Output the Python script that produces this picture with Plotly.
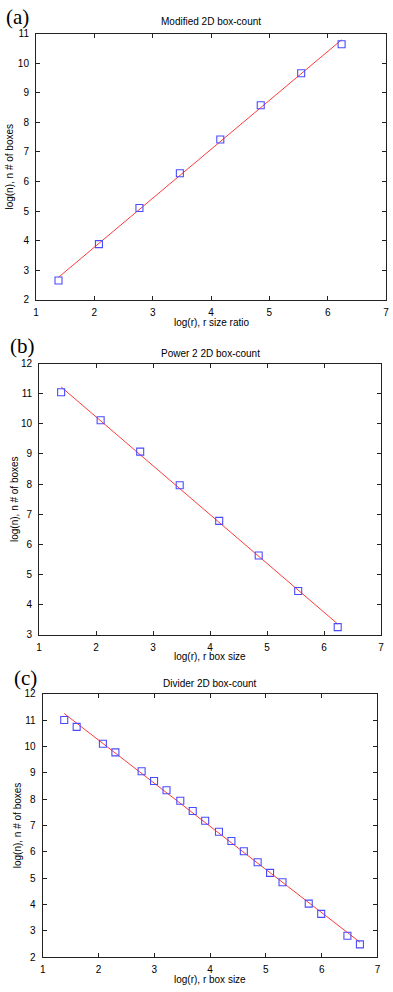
import numpy as np
import plotly.graph_objects as go

# ---------------- data ----------------
x_a = [1.386, 2.079, 2.773, 3.466, 4.159, 4.852, 5.545, 6.238]
y_a = [2.65, 3.88, 5.10, 6.28, 7.42, 8.58, 9.66, 10.64]

x_b = [1.386, 2.079, 2.773, 3.466, 4.159, 4.852, 5.545, 6.238]
y_b = [11.05, 10.12, 9.08, 7.96, 6.78, 5.63, 4.45, 3.25]

x_c = [1.386, 1.609, 2.079, 2.303, 2.773, 2.996, 3.219, 3.466, 3.689, 3.912,
       4.159, 4.382, 4.605, 4.852, 5.075, 5.298, 5.768, 5.991, 6.461, 6.685]
y_c = [11.01, 10.75, 10.11, 9.78, 9.06, 8.69, 8.34, 7.94, 7.55, 7.18,
       6.76, 6.41, 6.02, 5.60, 5.20, 4.84, 4.03, 3.64, 2.81, 2.48]

titles = ["Modified 2D box-count", "Power 2 2D box-count", "Divider 2D box-count"]
xtitles = ["log(r), r size ratio", "log(r), r box size", "log(r), r box size"]
ytitle = "log(n), n # of boxes"
labels = ["(a)", "(b)", "(c)"]
yranges = [[2, 11], [3, 12], [2, 12]]
xrange_ = [1, 7]

W, H = 393, 992

def px(x):
    return x / W

def py(y):
    return 1 - y / H

# plot boxes in pixels: left, right, top, bottom
boxes = [(33.5, 389, 29, 298), (36.7, 384, 362.7, 636.7), (40.3, 380.3, 696.7, 962.7)]
title_y = [17, 352, 686]
xtitle_y = [321, 659, 985]
ytitle_x = [7, 11, 15]
label_pos = [(1, 12), (5, 345), (9, 681)]

fig = go.Figure()
datasets = [(x_a, y_a), (x_b, y_b), (x_c, y_c)]
annotations = []
for i, (xs, ys) in enumerate(datasets):
    sfx = "" if i == 0 else str(i + 1)
    xa, ya = "x" + sfx, "y" + sfx
    xs_arr = np.array(xs)
    coef = np.polyfit(xs_arr, np.array(ys), 1)
    xl = np.array([xs_arr.min(), xs_arr.max()])
    fig.add_trace(go.Scatter(x=xl, y=np.polyval(coef, xl), mode="lines",
                             line=dict(color="#ff3a3a", width=1),
                             xaxis=xa, yaxis=ya, showlegend=False))
    fig.add_trace(go.Scatter(x=xs, y=ys, mode="markers",
                             marker=dict(symbol="square-open", size=7,
                                         color="#4a4aff", line=dict(width=1.1)),
                             xaxis=xa, yaxis=ya, showlegend=False))
    l, r, t, b = boxes[i]
    axstyle = dict(showgrid=False, zeroline=False, showline=True, linecolor="#222",
                   linewidth=1, mirror="ticks", ticks="inside", ticklen=4,
                   tickcolor="#222", tickfont=dict(family="Liberation Sans", size=10, color="black"),
                   dtick=1)
    fig.update_layout(**{
        "xaxis" + sfx: dict(domain=[px(l), px(r)], range=xrange_, anchor=ya,
                            ticklabelstandoff=3, **axstyle),
        "yaxis" + sfx: dict(domain=[py(b), py(t)], range=yranges[i], anchor=xa,
                            ticklabelstandoff=4, **axstyle),
    })
    cx = (l + r) / 2
    annotations.append(dict(text=titles[i], x=px(cx), y=py(title_y[i]), xref="paper", yref="paper",
                            showarrow=False, xanchor="center", yanchor="middle",
                            font=dict(family="Liberation Sans", size=10, color="black")))
    annotations.append(dict(text=xtitles[i], x=px(cx), y=py(xtitle_y[i]), xref="paper", yref="paper",
                            showarrow=False, xanchor="center", yanchor="middle",
                            font=dict(family="Liberation Sans", size=10, color="black")))
    annotations.append(dict(text=ytitle, x=px(ytitle_x[i]), y=py((t + b) / 2), xref="paper", yref="paper",
                            showarrow=False, xanchor="center", yanchor="middle", textangle=-90,
                            font=dict(family="Liberation Sans", size=10, color="black")))
    lx, ly = label_pos[i]
    annotations.append(dict(text=labels[i], x=px(lx), y=py(ly), xref="paper", yref="paper",
                            showarrow=False, xanchor="left", yanchor="middle",
                            font=dict(family="Liberation Serif", size=21, color="black")))

fig.update_layout(width=W, height=H, margin=dict(l=0, r=0, t=0, b=0),
                  paper_bgcolor="white", plot_bgcolor="white",
                  annotations=annotations)
fig.write_html("out.html",
               config={"displayModeBar": False, "responsive": False},
               post_script="document.documentElement.style.margin='0';"
                           "document.body.style.margin='0';document.body.style.padding='0';"
                           "document.body.style.overflow='hidden';")
